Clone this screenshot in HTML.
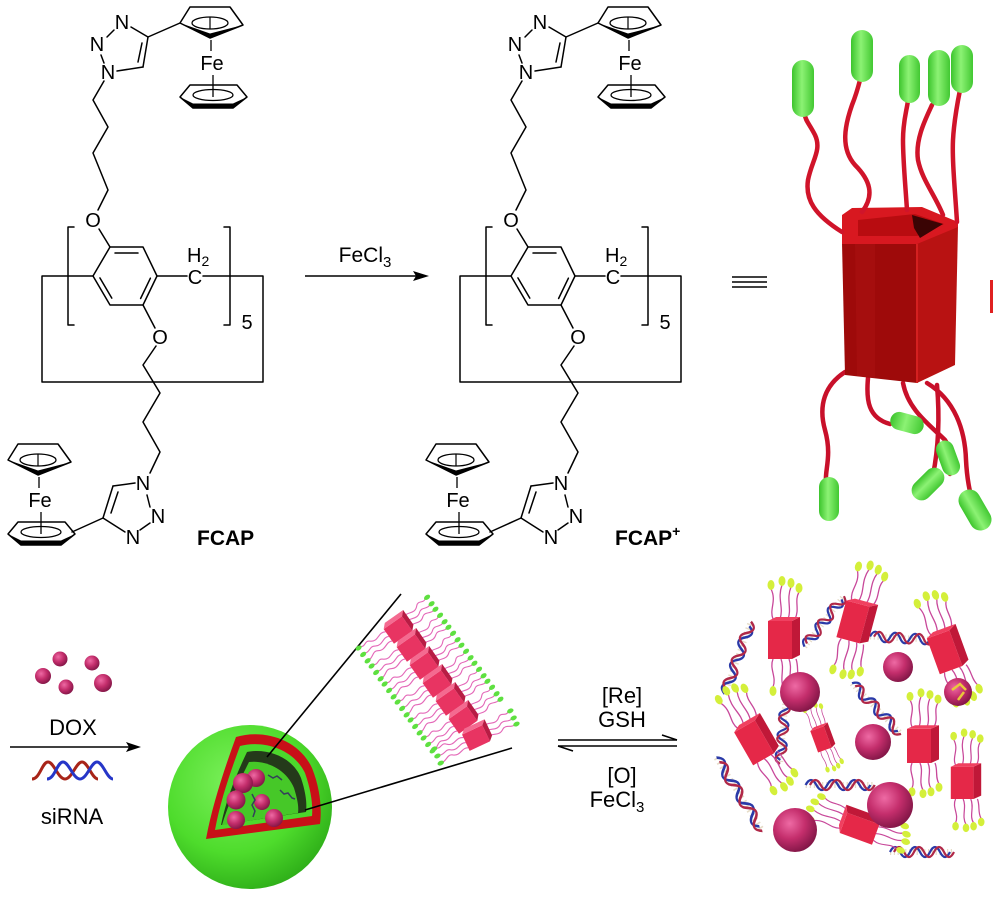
<!DOCTYPE html>
<html><head><meta charset="utf-8"><style>
html,body{margin:0;padding:0;background:#fff;}
svg{display:block;}
text{font-family:"Liberation Sans",Arial,sans-serif;fill:#000;}
</style></head><body>
<svg width="1000" height="900" viewBox="0 0 1000 900" xmlns="http://www.w3.org/2000/svg">
<defs>
 <radialGradient id="pk" cx="38%" cy="35%" r="70%"><stop offset="0" stop-color="#ee6aa4"/><stop offset="0.5" stop-color="#c42e6c"/><stop offset="1" stop-color="#7e1444"/></radialGradient>
 <radialGradient id="gr" cx="40%" cy="35%" r="72%"><stop offset="0" stop-color="#7cf05c"/><stop offset="0.6" stop-color="#4edc2c"/><stop offset="1" stop-color="#2aa816"/></radialGradient>
 <linearGradient id="cap" x1="0" x2="1" y1="0" y2="0"><stop offset="0" stop-color="#3cc42c"/><stop offset="0.45" stop-color="#8cf274"/><stop offset="1" stop-color="#42c832"/></linearGradient>
 <g id="fc">
  <polygon points="180,23 190,7 230,7 243,25 210,38" fill="none" stroke="#000" stroke-width="1.5" stroke-linejoin="round"/>
  <polygon points="180,23 210,38 243,25 210,33.5" fill="#000"/>
  <ellipse cx="210" cy="23" rx="18" ry="6" fill="none" stroke="#000" stroke-width="1.3"/>
  <line x1="210" y1="17" x2="210" y2="29" stroke="#000" stroke-width="1.2"/>
  <line x1="211" y1="40" x2="211" y2="51" stroke="#000" stroke-width="1.3"/>
  <polygon points="180,97 190,85 237,85 247,97 233,108 193,108" fill="none" stroke="#000" stroke-width="1.5" stroke-linejoin="round"/>
  <polygon points="180,97 193,108 233,108 247,97 233,103.5 193,103.5" fill="#000"/>
  <ellipse cx="213" cy="95" rx="20" ry="5.5" fill="none" stroke="#000" stroke-width="1.3"/>
  <line x1="213" y1="75" x2="213" y2="97" stroke="#000" stroke-width="1.3"/>
 </g>
 <g id="ml">
  <use href="#fc"/>
  <use href="#fc" transform="translate(-172,437)"/>
  <g stroke="#000" stroke-width="1.5" fill="none" stroke-linecap="round" stroke-linejoin="round">
   <line x1="131" y1="27" x2="148" y2="37"/>
   <line x1="148" y1="37" x2="180" y2="23"/>
   <line x1="148" y1="37" x2="143" y2="67"/>
   <line x1="142" y1="43" x2="138" y2="62"/>
   <line x1="143" y1="67" x2="117" y2="71"/>
   <line x1="101" y1="55" x2="104" y2="63"/>
   <line x1="107" y1="37" x2="114" y2="30"/>
   <polyline points="104,81 93,100 108,127 93,153 108,190 98,210"/>
   <line x1="99" y1="229" x2="110" y2="247"/>
   <polygon points="110,247 143,247 157,276 143,305 110,305 93,276"/>
   <line x1="115" y1="253" x2="138" y2="253"/>
   <line x1="150.4" y1="278.2" x2="140.6" y2="298.5"/>
   <line x1="99.9" y1="277.9" x2="111.8" y2="298.1"/>
   <polyline points="93,276 42,276 42,382 263,382 263,276 203,276"/>
   <line x1="157" y1="276" x2="187" y2="276"/>
   <polyline points="74,227 68,227 68,325 74,325"/>
   <polyline points="224,227 230,227 230,325 224,325"/>
   <line x1="143" y1="305" x2="155" y2="328"/>
   <polyline points="156,346 143,365 160,393 143,422 160,452 150,473"/>
   <line x1="135" y1="483" x2="113" y2="486"/>
   <line x1="113" y1="486" x2="103" y2="518"/>
   <line x1="118" y1="492" x2="111" y2="513"/>
   <line x1="103" y1="518" x2="125" y2="532"/>
   <line x1="103" y1="518" x2="72" y2="532"/>
   <line x1="140" y1="530" x2="150" y2="523"/>
   <line x1="150" y1="507" x2="147" y2="495"/>
  </g>
 </g>
 <g id="mc">
  <g fill="none" stroke="#e468b8" stroke-width="1">
   <path d="M10,-6 C16,-10 20,-2 26,-8 C30,-12 32,-6 36,-9"/>
   <path d="M10,-1 C15,-4 19,3 25,-2 C29,-5 32,0 36,-2"/>
   <path d="M10,4 C15,1 19,8 25,3 C29,0 32,5 36,4"/>
   <path d="M-10,-5 C-16,-9 -20,-1 -26,-6 C-30,-10 -32,-4 -36,-7"/>
   <path d="M-10,0 C-15,-3 -19,4 -25,0 C-29,-3 -32,2 -36,0"/>
   <path d="M-10,5 C-15,2 -19,9 -25,5 C-29,2 -32,7 -36,7"/>
  </g>
  <g fill="#5ee040">
   <ellipse cx="38" cy="-9" rx="3" ry="2"/><ellipse cx="38" cy="-2" rx="3" ry="2"/><ellipse cx="38" cy="4" rx="3" ry="2"/>
   <ellipse cx="-38" cy="-7" rx="3" ry="2"/><ellipse cx="-38" cy="0" rx="3" ry="2"/><ellipse cx="-38" cy="7" rx="3" ry="2"/>
  </g>
  <rect x="-10" y="-8" width="20" height="16" fill="#e83462"/>
  <polygon points="-10,-8 -6,-12 14,-12 10,-8" fill="#f46a90"/>
  <polygon points="10,-8 14,-12 14,4 10,8" fill="#b81c44"/>
 </g>
 <g id="nc">
  <g fill="none" stroke="#c8489a" stroke-width="1.3">
   <path d="M-11,-20 C-15,-30 -7,-38 -13,-50"/>
   <path d="M-4,-20 C0,-32 -7,-40 -2,-54"/>
   <path d="M4,-20 C8,-30 2,-40 7,-52"/>
   <path d="M11,-20 C16,-30 10,-38 15,-47"/>
   <path d="M-11,20 C-15,30 -7,38 -11,48"/>
   <path d="M-3,20 C1,30 -5,40 0,50"/>
   <path d="M5,20 C9,30 3,40 8,48"/>
   <path d="M12,20 C15,28 12,36 16,43"/>
  </g>
  <g fill="#d4ef3a">
   <ellipse cx="-13" cy="-54" rx="3.5" ry="5"/><ellipse cx="-2" cy="-58" rx="3.5" ry="5"/>
   <ellipse cx="7" cy="-56" rx="3.5" ry="5"/><ellipse cx="15" cy="-51" rx="3.5" ry="5"/>
   <ellipse cx="-11" cy="52" rx="3.5" ry="5"/><ellipse cx="0" cy="54" rx="3.5" ry="5"/>
   <ellipse cx="8" cy="52" rx="3.5" ry="5"/><ellipse cx="16" cy="47" rx="3.5" ry="5"/>
  </g>
  <rect x="-16" y="-18" width="24" height="38" fill="#e52848"/>
  <polygon points="8,-18 16,-22 16,16 8,20" fill="#c01838"/>
  <polygon points="-16,-18 -8,-22 16,-22 8,-18" fill="#f04060"/>
 </g>
 <g id="dna">
  <line x1="-30" y1="0" x2="32" y2="0" stroke="#e6dcc8" stroke-width="6" stroke-dasharray="1.2,2.6"/>
  <path d="M-30,0 Q-25,-10 -20,0 T-10,0 T0,0 T10,0 T20,0 T30,0" fill="none" stroke="#2a3aa8" stroke-width="2.2"/>
  <path d="M-26,0 Q-21,-10 -16,0 T-6,0 T4,0 T14,0 T24,0 T34,0" fill="none" stroke="#b02848" stroke-width="2.2"/>
 </g>
</defs>

<!-- ===== Molecules ===== -->
<use href="#ml"/>
<use href="#ml" transform="translate(418,0)"/>

<g font-size="20" text-anchor="middle">
 <text x="122" y="29">N</text>
 <text x="97" y="51">N</text>
 <text x="108" y="79">N</text>
 <text x="212" y="70">Fe</text>
 <text x="93" y="227">O</text>
 <text x="187" y="262" text-anchor="start">H<tspan font-size="14" dy="4">2</tspan></text>
 <text x="195" y="284">C</text>
 <text x="247" y="329">5</text>
 <text x="160" y="344">O</text>
 <text x="143" y="490">N</text>
 <text x="158" y="523">N</text>
 <text x="133" y="544">N</text>
 <text x="40" y="507">Fe</text>
 <text x="197" y="545" text-anchor="start" font-weight="bold" font-size="21">FCAP</text>

 <text x="540" y="29">N</text>
 <text x="515" y="51">N</text>
 <text x="526" y="79">N</text>
 <text x="630" y="70">Fe</text>
 <text x="511" y="227">O</text>
 <text x="605" y="262" text-anchor="start">H<tspan font-size="14" dy="4">2</tspan></text>
 <text x="613" y="284">C</text>
 <text x="665" y="329">5</text>
 <text x="578" y="344">O</text>
 <text x="561" y="490">N</text>
 <text x="576" y="523">N</text>
 <text x="551" y="544">N</text>
 <text x="458" y="507">Fe</text>
 <text x="615" y="545" text-anchor="start" font-weight="bold" font-size="21">FCAP<tspan font-size="14" dy="-9">+</tspan></text>

 <text x="365" y="262" font-size="21">FeCl<tspan font-size="15" dy="5">3</tspan></text>
</g>

<!-- reaction arrow -->
<line x1="305" y1="276" x2="418" y2="276" stroke="#000" stroke-width="1.5"/>
<polygon points="429,276 413,271 416,276 413,281" fill="#000"/>

<!-- equivalence -->
<g stroke="#000" stroke-width="1.4">
 <line x1="732" y1="277" x2="767" y2="277"/>
 <line x1="732" y1="282" x2="767" y2="282"/>
 <line x1="732" y1="287" x2="767" y2="287"/>
</g>
<rect x="990" y="280" width="3" height="33" fill="#e02020"/>

<!-- ===== Top-right cartoon ===== -->
<g fill="none" stroke="#c8102a" stroke-width="4.5" stroke-linecap="round">
 <path d="M845,372 C825,385 818,405 825,430 C832,455 825,470 826,480"/>
 <path d="M868,378 C866,400 868,418 890,424"/>
 <path d="M903,383 C908,410 930,425 945,440 C955,455 952,466 950,474"/>
 <path d="M937,385 C940,420 938,450 933,475"/>
 <path d="M927,383 C955,400 965,430 966,460 C967,480 970,492 972,500"/>
</g>
<polygon points="842,243 917,243 917,383 845,375" fill="#9e0a0a"/>
<polygon points="855,244 875,244 875,378 857,376" fill="#a81010" opacity="0.7"/>
<polygon points="917,243 958,226 955,365 917,383" fill="#b81212"/>
<line x1="917" y1="244" x2="917" y2="383" stroke="#d42020" stroke-width="2"/>
<polygon points="842,215 852,208 922,207 958,222 958,227 917,244 842,244" fill="#d81820"/>
<polygon points="858,220 915,214 944,224 917,236 858,236" fill="#b80c10"/>
<polygon points="912,215 943,224 920,238 914,228" fill="#3a0404"/>
<g fill="none" stroke="#d0142a" stroke-width="4.5" stroke-linecap="round">
 <path d="M842,232 C815,215 805,200 808,180 C812,160 822,150 815,135 C810,125 805,120 805,115"/>
 <path d="M862,212 C875,195 870,180 855,165 C840,148 845,125 852,105 C856,95 858,88 860,80"/>
 <path d="M907,210 C905,180 903,160 903,140 C903,120 907,110 908,100"/>
 <path d="M943,215 C935,195 922,180 918,160 C915,140 925,120 932,105"/>
 <path d="M957,222 C955,190 952,160 953,140 C954,120 958,100 960,90"/>
</g>
<g fill="url(#cap)">
 <rect x="792" y="60" width="22" height="57" rx="11"/>
 <rect x="851" y="30" width="22" height="52" rx="11"/>
 <rect x="899" y="55" width="21" height="48" rx="10.5"/>
 <rect x="928" y="50" width="22" height="56" rx="11"/>
 <rect x="951" y="45" width="22" height="48" rx="11"/>
 <rect x="819" y="477" width="20" height="44" rx="10"/>
 <rect x="890" y="414" width="34" height="18" rx="9" transform="rotate(15 907 423)"/>
 <rect x="939" y="440" width="18" height="36" rx="9" transform="rotate(-20 948 458)"/>
 <rect x="918" y="465" width="20" height="38" rx="10" transform="rotate(45 928 484)"/>
 <rect x="964" y="488" width="22" height="44" rx="11" transform="rotate(-30 975 510)"/>
</g>

<!-- ===== Bottom-left ===== -->
<g fill="url(#pk)">
 <circle cx="60" cy="659" r="7.5"/>
 <circle cx="92" cy="663" r="7.5"/>
 <circle cx="43" cy="676" r="8"/>
 <circle cx="66" cy="687" r="7.5"/>
 <circle cx="103" cy="683" r="9"/>
</g>
<text x="73" y="735" font-size="22" text-anchor="middle">DOX</text>
<line x1="10" y1="747" x2="130" y2="747" stroke="#000" stroke-width="1.5"/>
<polygon points="141,747 126,742 129,747 126,752" fill="#000"/>
<path d="M32,779 C40,779 42,762 48,762 C54,762 58,779 65,779 C72,779 76,762 82,762 C88,762 92,779 98,779" fill="none" stroke="#a82418" stroke-width="3"/>
<path d="M47,779 C55,779 57,762 63,762 C69,762 73,779 80,779 C87,779 91,762 97,762 C103,762 107,779 113,779" fill="none" stroke="#2636c8" stroke-width="3"/>
<text x="72" y="824" font-size="22" text-anchor="middle">siRNA</text>

<!-- big sphere -->
<circle cx="250" cy="807" r="82" fill="url(#gr)"/>
<path d="M236,737 C262,729 298,738 312,768 C320,788 322,808 320,824 L206,839 C212,806 224,770 236,737 Z" fill="#c81018"/>
<path d="M240,746 C262,740 293,748 305,773 C311,790 313,805 312,816 L215,830 C220,802 230,773 240,746 Z" fill="#4cd82c"/>
<path d="M247,752 C266,748 292,756 301,778 C306,793 307,804 306,812 L221,825 C226,800 236,775 247,752 Z" fill="#243a1a"/>
<path d="M249,762 C266,760 286,769 294,788 C297,798 299,806 298,813 L222,825 C228,804 239,782 249,762 Z" fill="#46c828"/>
<g fill="url(#pk)">
 <circle cx="256" cy="778" r="9"/>
 <circle cx="243" cy="783" r="10"/>
 <circle cx="236" cy="800" r="9.5"/>
 <circle cx="262" cy="802" r="8"/>
 <circle cx="236" cy="820" r="9"/>
 <circle cx="274" cy="818" r="9"/>
</g>
<g fill="none" stroke="#34405a" stroke-width="1.5">
 <path d="M252,794 l3,6 -3,5 3,6 -2,6"/>
 <path d="M280,790 l4,4 4,-1 4,5 3,1"/>
 <path d="M268,775 l5,3 4,-2 5,4"/>
</g>
<line x1="267" y1="757" x2="401" y2="594" stroke="#000" stroke-width="1.6"/>
<line x1="305" y1="810" x2="512" y2="748" stroke="#000" stroke-width="1.6"/>

<!-- membrane inset -->
<use href="#mc" transform="translate(398,630) rotate(-35) scale(1.12)"/>
<use href="#mc" transform="translate(411,648) rotate(-35) scale(1.12)"/>
<use href="#mc" transform="translate(424,666) rotate(-35) scale(1.12)"/>
<use href="#mc" transform="translate(437,684) rotate(-35) scale(1.12)"/>
<use href="#mc" transform="translate(450,702) rotate(-35) scale(1.12)"/>
<use href="#mc" transform="translate(463,720) rotate(-35) scale(1.12)"/>
<use href="#mc" transform="translate(476,738) rotate(-25) scale(1.12)"/>

<!-- equilibrium -->
<g font-size="22" text-anchor="middle">
 <text x="622" y="703">[Re]</text>
 <text x="622" y="727">GSH</text>
 <text x="622" y="783">[O]</text>
 <text x="617" y="807">FeCl<tspan font-size="15" dy="5">3</tspan></text>
</g>
<g stroke="#000" stroke-width="1.5" fill="none">
 <line x1="558" y1="740" x2="677" y2="740"/>
 <line x1="677" y1="740" x2="662" y2="735"/>
 <line x1="558" y1="746" x2="677" y2="746"/>
 <line x1="558" y1="746" x2="573" y2="751"/>
</g>

<!-- ===== Bottom-right cluster ===== -->
<use href="#dna" transform="translate(737,660) rotate(-70) scale(1.2,1)"/>
<use href="#dna" transform="translate(823,623) rotate(-52)"/>
<use href="#dna" transform="translate(900,638) rotate(3)"/>
<use href="#dna" transform="translate(875,707) rotate(46) scale(1.1,1)"/>
<use href="#dna" transform="translate(783,730) rotate(95)"/>
<use href="#dna" transform="translate(738,792) rotate(58) scale(1.35,1)"/>
<use href="#dna" transform="translate(838,785) scale(1.08,1)"/>
<use href="#dna" transform="translate(920,852)"/>

<use href="#nc" transform="translate(784,639)"/>
<use href="#nc" transform="translate(857,622) rotate(15)"/>
<use href="#nc" transform="translate(948,650) rotate(-20)"/>
<use href="#nc" transform="translate(757,740) rotate(-30)"/>
<use href="#nc" transform="translate(823,738) rotate(-20) scale(0.6)"/>
<use href="#nc" transform="translate(923,745) scale(1,0.9)"/>
<use href="#nc" transform="translate(966,782) scale(0.95,0.85)"/>
<use href="#nc" transform="translate(860,825) rotate(-70) scale(0.9)"/>

<g fill="url(#pk)">
 <circle cx="800" cy="692" r="20"/>
 <circle cx="898" cy="667" r="15"/>
 <circle cx="958" cy="692" r="14"/>
 <circle cx="873" cy="742" r="18"/>
 <circle cx="890" cy="805" r="23"/>
 <circle cx="795" cy="830" r="22"/>
</g>
<g fill="none" stroke="#e8c83a" stroke-width="2.5">
 <path d="M952,690 l8,-6 6,6"/>
 <path d="M958,700 l6,-8"/>
</g>
</svg>
</body></html>
